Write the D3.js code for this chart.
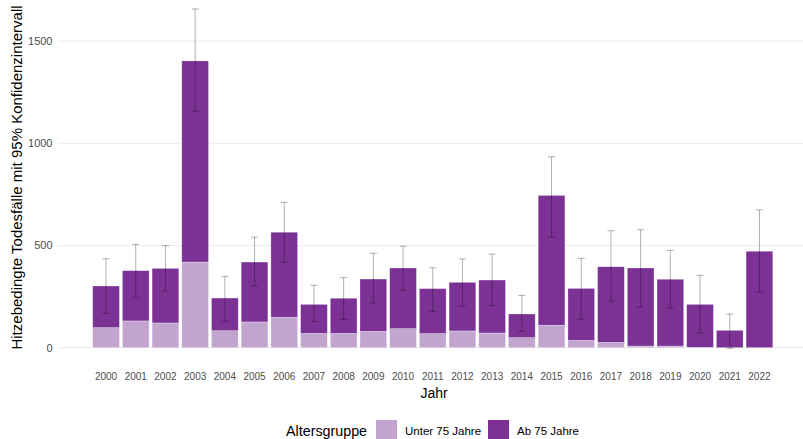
<!DOCTYPE html>
<html>
<head>
<meta charset="utf-8">
<script src="https://cdn.jsdelivr.net/npm/d3@7"></script>
<style>
  html, body { margin: 0; padding: 0; background: #fff; }
  svg { display: block; font-family: "Liberation Sans", Arial, sans-serif; }
</style>
</head>
<body>
<svg id="chart" width="803" height="439"></svg>
<script>
// Heat-related deaths per year, split by age group, with 95% confidence intervals
const years = ["2000","2001","2002","2003","2004","2005","2006","2007","2008","2009","2010","2011",
               "2012","2013","2014","2015","2016","2017","2018","2019","2020","2021","2022"];
const under75 = [98, 131, 121, 419, 83, 126, 149, 70, 70, 80, 93, 69, 82, 72, 49, 110, 36, 26, 8, 8, 2, 0, 0];
const total   = [302, 377, 388, 1403, 243, 419, 565, 212, 242, 336, 390, 289, 320, 331, 165, 745, 290, 396, 390, 335, 212, 85, 472];
const ciLow   = [168, 245, 277, 1157, 129, 302, 418, 127, 137, 219, 281, 178, 204, 207, 80, 541, 139, 227, 199, 194, 72, -3, 271];
const ciHigh  = [435, 506, 499, 1657, 349, 541, 711, 305, 343, 462, 496, 391, 434, 458, 256, 934, 437, 572, 577, 476, 354, 165, 674];
const yTicks  = [0, 500, 1000, 1500];
const groups  = ["Unter 75 Jahre", "Ab 75 Jahre"];
const colors  = ["#c2a5cf", "#7b3294"];

const svg = d3.select("#chart");

const x = d3.scaleBand().domain(years).range([91.2, 774.3]).paddingInner(0.1).paddingOuter(0.05);
const y = d3.scaleLinear().domain([0, 1700]).range([347.7, 0.2]);
const color = d3.scaleOrdinal().domain(groups).range(colors);

// horizontal grid
svg.append("g").selectAll("line").data(yTicks).join("line")
  .attr("x1", 58).attr("x2", 803)
  .attr("y1", d => y(d)).attr("y2", d => y(d))
  .attr("stroke", "#ebebeb").attr("stroke-width", 1);

// y tick labels
svg.append("g").selectAll("text").data(yTicks).join("text")
  .attr("x", 52.5).attr("y", d => y(d))
  .attr("dy", "0.36em").attr("text-anchor", "end")
  .attr("font-size", 11).attr("fill", "#4d4d4d")
  .text(d => d);

// stacked bars
const rows = years.map((yr, i) => ({ year: yr, "Unter 75 Jahre": under75[i], "Ab 75 Jahre": total[i] - under75[i] }));
const stacked = d3.stack().keys(groups)(rows);

svg.append("g").selectAll("g").data(stacked).join("g")
  .attr("fill", d => color(d.key))
  .selectAll("rect").data(d => d).join("rect")
  .attr("x", d => x(d.data.year))
  .attr("width", x.bandwidth())
  .attr("y", d => y(d[1]))
  .attr("height", d => Math.max(0, y(d[0]) - y(d[1])))
  .attr("stroke", "#ffffff").attr("stroke-opacity", 0.5).attr("stroke-width", 0.6);

// confidence interval whiskers
const ci = svg.append("g").attr("stroke", "#000").attr("stroke-opacity", 0.35).attr("stroke-width", 0.9);
years.forEach((yr, i) => {
  const cx = x(yr) + x.bandwidth() / 2;
  ci.append("line").attr("x1", cx).attr("x2", cx).attr("y1", y(ciLow[i])).attr("y2", y(ciHigh[i]));
  ci.append("line").attr("x1", cx - 3.5).attr("x2", cx + 3.5).attr("y1", y(ciLow[i])).attr("y2", y(ciLow[i]));
  ci.append("line").attr("x1", cx - 3.5).attr("x2", cx + 3.5).attr("y1", y(ciHigh[i])).attr("y2", y(ciHigh[i]));
});

// x tick labels
svg.append("g").selectAll("text").data(years).join("text")
  .attr("x", d => x(d) + x.bandwidth() / 2).attr("y", 376)
  .attr("dy", "0.36em").attr("text-anchor", "middle")
  .attr("font-size", 10).attr("fill", "#4d4d4d")
  .text(d => d);

// axis titles
svg.append("text").attr("x", 434).attr("y", 398)
  .attr("text-anchor", "middle").attr("font-size", 14).attr("fill", "#000")
  .text("Jahr");

svg.append("text")
  .attr("transform", "translate(22,177.5) rotate(-90)")
  .attr("text-anchor", "middle").attr("font-size", 15).attr("fill", "#000")
  .text("Hitzebedingte Todesfälle mit 95% Konfidenzintervall");

// legend
const lg = svg.append("g");
lg.append("text").attr("x", 286).attr("y", 431).attr("dy", "0.36em")
  .attr("font-size", 14.3).attr("fill", "#000").text("Altersgruppe");
const legendItems = [
  { key: groups[0], sx: 376, tx: 405 },
  { key: groups[1], sx: 488, tx: 517 }
];
legendItems.forEach(it => {
  lg.append("rect").attr("x", it.sx).attr("y", 420).attr("width", 21).attr("height", 21)
    .attr("fill", color(it.key));
  lg.append("text").attr("x", it.tx).attr("y", 431).attr("dy", "0.36em")
    .attr("font-size", 11.5).attr("fill", "#000").text(it.key);
});
</script>
</body>
</html>
